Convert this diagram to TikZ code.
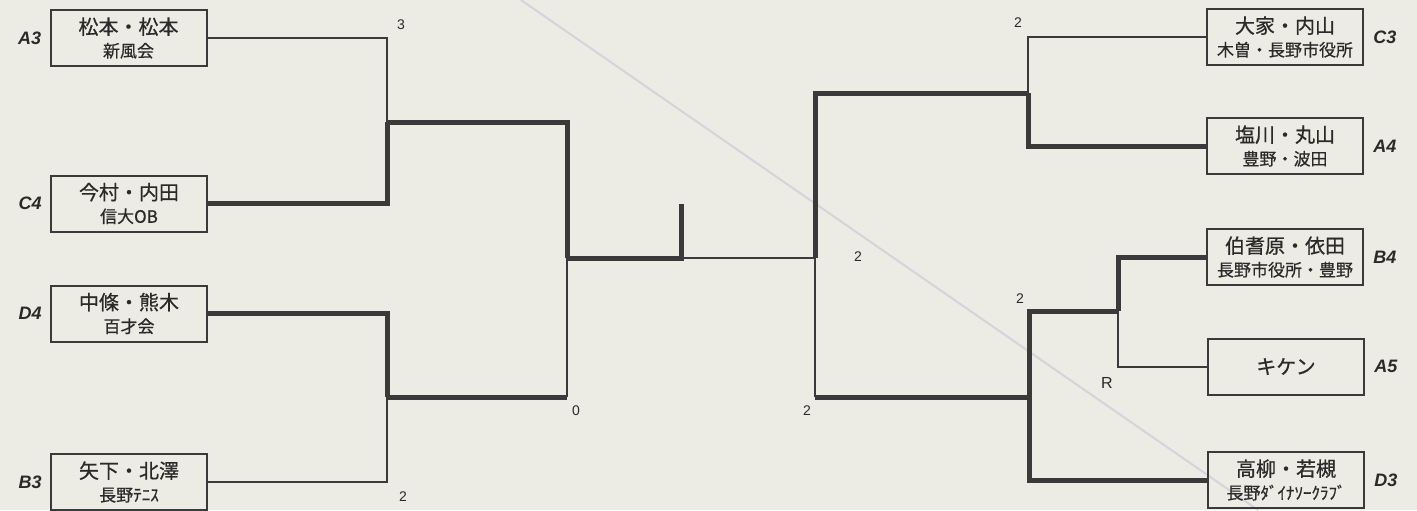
\documentclass[tikz,border=0pt]{standalone}
\usepackage{fontspec}
\setmainfont{Liberation Sans}
\newfontfamily\jpfont[FakeBold=0.6]{Noto Sans CJK JP}
\newfontfamily\lblfont{Liberation Sans}
\definecolor{paper}{HTML}{ECEBE4}
\definecolor{ink}{HTML}{3A3A3A}
\definecolor{txt}{HTML}{2A2A2A}
\definecolor{crease}{HTML}{D4D4DC}
\tikzset{
  team/.style={draw=ink, line width=1pt, fill=none, minimum width=78pt, minimum height=28pt,
    inner sep=0pt, align=center, text=txt, font=\jpfont\fontsize{10}{11.5}\selectfont},
  pool/.style={text=txt, font=\lblfont\bfseries\itshape\fontsize{9}{10}\selectfont, inner sep=0pt},
  score/.style={text=txt, font=\lblfont\fontsize{7}{8}\selectfont, inner sep=0pt},
  thin/.style={draw=ink, line width=1pt},
  thick/.style={draw=ink, line width=2.5pt},
}
\newcommand{\aff}[1]{{\fontsize{8.5}{10}\selectfont #1}}
\begin{document}
\begin{tikzpicture}[x=0.5pt, y=-0.5pt]
\fill[paper] (0,0) rectangle (1417,510);
\useasboundingbox (0,0) rectangle (1417,510);
% faint crease of the scanned sheet
\draw[crease, line width=1pt] (521,0) -- (1258,510);

% left teams
\node[team] (A3) at (128.5,38) {松本・松本\\\aff{新風会}};
\node[team] (C4) at (129,203.5) {今村・内田\\\aff{信大OB}};
\node[team] (D4) at (129,313.5) {中條・熊木\\\aff{百才会}};
\node[team] (B3) at (129,482) {矢下・北澤\\\aff{長野ﾃﾆｽ}};
% right teams
\node[team] (C3) at (1285,37) {大家・内山\\\aff{木曽・長野市役所}};
\node[team] (A4) at (1285,146) {塩川・丸山\\\aff{豊野・波田}};
\node[team] (B4) at (1285,257) {伯耆原・依田\\\aff{長野市役所・豊野}};
\node[team] (A5) at (1286,366.5) {キケン};
\node[team] (D3) at (1286,480) {高柳・若槻\\\aff{長野ﾀﾞｲﾅｿｰｸﾗﾌﾞ}};

% pool labels
\node[pool, anchor=east] (lA3) at ([xshift=-4pt]A3.west) {A3};
\node[pool, anchor=east] (lC4) at ([xshift=-4pt]C4.west) {C4};
\node[pool, anchor=east] (lD4) at ([xshift=-4pt]D4.west) {D4};
\node[pool, anchor=east] (lB3) at ([xshift=-4pt]B3.west) {B3};
\node[pool, anchor=west] (lC3) at ([xshift=4.5pt]C3.east) {C3};
\node[pool, anchor=west] (lA4) at ([xshift=4.5pt]A4.east) {A4};
\node[pool, anchor=west] (lB4) at ([xshift=4.5pt]B4.east) {B4};
\node[pool, anchor=west] (lA5) at ([xshift=4.5pt]A5.east) {A5};
\node[pool, anchor=west] (lD3) at ([xshift=4.5pt]D3.east) {D3};

% junctions
\coordinate (jL1) at (387,122);
\coordinate (jL2) at (387,397);
\coordinate (jLF) at (567,258);
\coordinate (fin) at (681,258);
\coordinate (fintop) at (681,204);
\coordinate (jRF) at (815,258);
\coordinate (jR1) at (1028,93);
\coordinate (jR2) at (1029,397);
\coordinate (jRB) at (1118,311);

% left bracket
\draw[thin] (A3.east) -| (jL1);
\draw[thick] (C4.east) -| (jL1);
\draw[thick] (jL1) -| (jLF);
\draw[thick] (D4.east) -| (jL2);
\draw[thin] (B3.east) -| (jL2);
\draw[thick] (jL2) -- (jL2 -| jLF);
\draw[thin] (jL2 -| jLF) -- (jLF);
\draw[thick] (jLF) -- (fin) -- (fintop);
\draw[thin] (fin) -- (jRF);

% right bracket
\draw[thick] (jRF) |- (jR1);
\draw[thin] (C3.west) -| (jR1);
\draw[thick] (A4.west) -| (jR1);
\draw[thin] (jRF) -- (jRF |- jR2);
\draw[thick] (jRF |- jR2) -- (jR2);
\draw[thick] (D3.west) -| (jR2);
\draw[thick] (jR2) |- (jRB);
\draw[thick] (B4.west) -| (jRB);
\draw[thin] (A5.west) -| (jRB);

% scores
\node[score] (s1) at (401,25) {3};
\node[score] (s2) at (403,497) {2};
\node[score] (s3) at (576,411) {0};
\node[score] (s4) at (1018,23) {2};
\node[score] (s5) at (858,257) {2};
\node[score] (s6) at (1020,299) {2};
\node[score] (s7) at (807,411) {2};
\node[score, font=\lblfont\fontsize{8}{9}\selectfont] (sR) at (1107,383) {R};
\end{tikzpicture}
\end{document}
